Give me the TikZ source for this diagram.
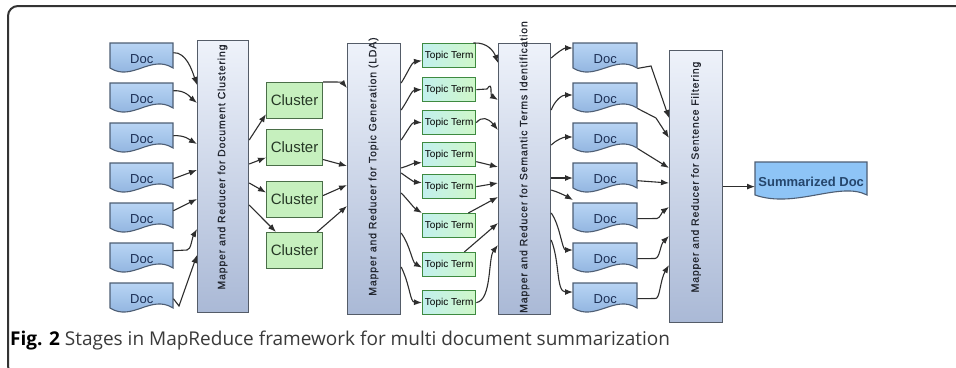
\documentclass[tikz,border=0pt]{standalone}
\usepackage{fontspec}
\setmainfont{Liberation Sans}
\newfontfamily\capfont{Open Sans}
\newfontfamily\mapfont[LetterSpace=8,FakeBold=0.6]{Liberation Sans}
\usetikzlibrary{arrows.meta,calc}

\definecolor{docA}{HTML}{B8D4F4}
\definecolor{docB}{HTML}{86ACDA}
\definecolor{docline}{HTML}{4E5E74}
\definecolor{doctext}{HTML}{1C2F55}
\definecolor{mapA}{HTML}{EEF2FA}
\definecolor{mapB}{HTML}{AAB9D6}
\definecolor{mapline}{HTML}{545C68}
\definecolor{maptxt}{HTML}{22262F}
\definecolor{clfill}{HTML}{C6F0BE}
\definecolor{clline}{HTML}{4A6E48}
\definecolor{cltext}{HTML}{263826}
\definecolor{ttA}{HTML}{C2F0EE}
\definecolor{ttB}{HTML}{CFF7C8}
\definecolor{ttline}{HTML}{3E8A40}
\definecolor{sumfill}{HTML}{8EC4F6}
\definecolor{sumtext}{HTML}{25466C}
\definecolor{arrcol}{HTML}{2E2E2E}
\definecolor{captxt}{HTML}{3A3A3A}

\newcommand{\docshape}[7]{% name, x, top, width, body height, node height, text
  \path[docsh] (#2,#3) -- ({#2+#4},#3) -- ({#2+#4},{#3+#5})
     .. controls ({#2+0.65*#4},{#3+#5-14}) and ({#2+0.35*#4},{#3+#5+14}) .. (#2,{#3+#5}) -- cycle;
  \node[docbody, anchor=north west, minimum width=#4pt, minimum height=#6pt] (#1) at (#2,#3) {#7};
}

\begin{document}
\begin{tikzpicture}[x=1pt,y=-1pt,
  docsh/.style={draw=docline, line width=1.1pt, top color=docA, bottom color=docB},
  docbody/.style={inner sep=0pt, text=doctext, font=\fontsize{13}{14}\selectfont},
  mapbox/.style={draw=mapline, line width=1.2pt, top color=mapA, bottom color=mapB, inner sep=0pt, anchor=north west},
  maptext/.style={inner sep=0pt, text=maptxt, font=\mapfont\fontsize{10.5}{12}\selectfont},
  clbox/.style={draw=clline, line width=1.1pt, fill=clfill, inner sep=0pt, anchor=north west, minimum width=56pt, minimum height=36pt, text=cltext, font=\fontsize{15}{16}\selectfont},
  ttbox/.style={draw=ttline, line width=1.3pt, left color=ttA, right color=ttB, inner sep=0pt, anchor=north west, minimum width=53pt, minimum height=24pt, text=black, font=\fontsize{10}{11}\selectfont},
  arr/.style={draw=arrcol, line width=1.1pt, -{Latex[length=8pt,width=6pt]}},
  ]
\useasboundingbox (0,0) rectangle (956,367);
\fill[white] (0,0) rectangle (956,367);
\draw[line width=2pt, draw=black!80, rounded corners=10pt] (8,6) rectangle (1000,376);

% mapper boxes
\node[mapbox, minimum width=51pt, minimum height=272pt] (m1) at (197,40) {};
\node[mapbox, minimum width=53pt, minimum height=271pt] (m2) at (347,43) {};
\node[mapbox, minimum width=52pt, minimum height=271pt] (m3) at (498,43) {};
\node[mapbox, minimum width=53pt, minimum height=272pt] (m4) at (669,50) {};
\node[maptext, rotate=90] (m1t) at (222.5,167) {Mapper and Reducer for Document Clustering};
\node[maptext, rotate=90] (m2t) at (373.5,166.5) {Mapper and Reducer for Topic Generation (LDA)};
\node[maptext, rotate=90] (m3t) at (524.5,167) {Mapper and Reducer for Semantic Terms Identification};
\node[maptext, rotate=90] (m4t) at (696,177) {Mapper and Reducer for Sentence Filtering};

% left docs
\docshape{d1}{110}{43}{63}{25}{31}{Doc}
\docshape{d2}{110}{83}{63}{25}{31}{Doc}
\docshape{d3}{110}{123}{63}{25}{31}{Doc}
\docshape{d4}{110}{163}{63}{25}{31}{Doc}
\docshape{d5}{110}{203}{63}{25}{31}{Doc}
\docshape{d6}{110}{243}{63}{25}{31}{Doc}
\docshape{d7}{110}{283}{63}{25}{31}{Doc}

% right docs
\docshape{r1}{573}{43}{64}{25}{31}{Doc}
\docshape{r2}{573}{83}{64}{25}{31}{Doc}
\docshape{r3}{573}{123}{64}{25}{31}{Doc}
\docshape{r4}{573}{163}{64}{25}{31}{Doc}
\docshape{r5}{573}{203}{64}{25}{31}{Doc}
\docshape{r6}{573}{243}{64}{25}{31}{Doc}
\docshape{r7}{573}{283}{64}{25}{31}{Doc}

% clusters
\node[clbox] (c1) at (266,82) {Cluster};
\node[clbox] (c2) at (266,129) {Cluster};
\node[clbox] (c3) at (266,181) {Cluster};
\node[clbox] (c4) at (266,232) {Cluster};

% topic terms
\node[ttbox] (t1) at (422,43) {Topic Term};
\node[ttbox] (t2) at (422,77) {Topic Term};
\node[ttbox] (t3) at (422,110) {Topic Term};
\node[ttbox] (t4) at (422,142) {Topic Term};
\node[ttbox] (t5) at (422,174) {Topic Term};
\node[ttbox] (t6) at (422,213) {Topic Term};
\node[ttbox] (t7) at (422,252) {Topic Term};
\node[ttbox] (t8) at (422,290) {Topic Term};

% summarized doc
\path[draw=docline, line width=1.1pt, fill=sumfill] (755,162) -- (867,162) -- (867,195)
   .. controls (840,181) and (795,209) .. (755,195) -- cycle;
\node[inner sep=0pt, anchor=north west, minimum width=112pt, minimum height=40pt, text=sumtext, font=\bfseries\fontsize{13}{14}\selectfont] (s) at (755,162) {Summarized Doc};

% stage 1: docs -> m1
\draw[arr] ([yshift=6pt]d1.east) .. controls (186,52) and (192,70) .. ([yshift=-45pt]m1.north west);
\draw[arr] ([yshift=8pt]d2.east) .. controls (186,90) and (191,98) .. ([yshift=-63pt]m1.north west);
\draw[arr] ([yshift=3pt]d3.east) .. controls (185,135) and (190,140) .. ([yshift=-104pt]m1.north west);
\draw[arr] (d4.east) -- ([yshift=-130pt]m1.north west);
\draw[arr] ([yshift=8pt]d5.east) -- ([yshift=-159pt]m1.north west);
\draw[arr] ([yshift=8pt]d6.east) -- (187,250) .. controls (191,250) and (192,238) .. ([yshift=-189pt]m1.north west);
\draw[arr] (d7.east) -- (179,306) -- ([yshift=-215pt]m1.north west);

% stage 2: m1 -> clusters
\draw[arr] ([yshift=-100pt]m1.north east) -- ([yshift=5pt]c1.south west);
\draw[arr] ([yshift=-124pt]m1.north east) -- ([yshift=-10pt]c2.west);
\draw[arr] ([yshift=-143pt]m1.north east) -- ([yshift=7pt]c3.west);
\draw[arr] ([yshift=-165pt]m1.north east) .. controls (258,214) and (268,224) .. ([xshift=10pt]c4.north west);

% stage 3: clusters -> m2
\draw[arr] (c1.north east) .. controls (334,82) and (342,82) .. ([yshift=-45pt]m2.north west);
\draw[arr] ([yshift=-12pt]c2.east) -- ([yshift=-123pt]m2.north west);
\draw[arr] ([yshift=4pt]c3.east) -- ([yshift=-142pt]m2.north west);
\draw[arr] ([xshift=-6pt]c4.north east) -- ([yshift=-163pt]m2.north west);

% stage 4: m2 -> topic terms
\draw[arr] ([yshift=-40pt]m2.north east) .. controls (408,72) and (412,62) .. ([yshift=-5pt]t1.west);
\draw[arr] ([yshift=-67pt]m2.north east) .. controls (408,100) and (412,90) .. (t2.west);
\draw[arr] ([yshift=-97pt]m2.north east) .. controls (408,130) and (412,122) .. (t3.west);
\draw[arr] ([yshift=-125pt]m2.north east) .. controls (408,166) and (414,163) .. ([yshift=-8pt]t4.west);
\draw[arr] ([yshift=-130pt]m2.north east) .. controls (408,178) and (414,182) .. ([yshift=4pt]t5.west);
\draw[arr] ([yshift=-150pt]m2.north east) .. controls (408,200) and (414,208) .. (t6.north west);
\draw[arr] ([yshift=-190pt]m2.north east) .. controls (410,245) and (412,262) .. ([yshift=-3pt]t7.west);
\draw[arr] ([yshift=-224pt]m2.north east) .. controls (410,285) and (410,302) .. (t8.west);

% stage 5: topic terms -> m3
\draw[arr] ([xshift=-3pt]t1.north east) .. controls (488,42) and (494,52) .. ([yshift=-20pt]m3.north west);
\draw[arr] (t2.east) -- (487,89) .. controls (493,80) and (490,95) .. ([yshift=-57pt]m3.north west);
\draw[arr] (t3.east) .. controls (482,116) and (488,118) .. ([yshift=-87pt]m3.north west);
\draw[arr] ([yshift=-7pt]t4.east) -- ([yshift=-124pt]m3.north west);
\draw[arr] (t5.east) -- ([yshift=-140pt]m3.north west);
\draw[arr] ([xshift=-8pt]t6.north east) -- ([yshift=-154pt]m3.north west);
\draw[arr] ([xshift=-12pt]t7.north east) -- ([yshift=-180pt]m3.north west);
\draw[arr] (t8.east) .. controls (492,300) and (488,258) .. ([yshift=-202pt]m3.north west);

% stage 6: m3 -> right docs
\draw[arr] ([yshift=-15pt]m3.north east) .. controls (558,52) and (564,48) .. ([yshift=-5pt]r1.north west);
\draw[arr] ([yshift=-67pt]m3.north east) .. controls (555,100) and (562,95) .. ([yshift=-12pt]r2.north west);
\draw[arr] ([yshift=-102pt]m3.north east) .. controls (556,140) and (564,137) .. ([yshift=-14pt]r3.north west);
\draw[arr] ([yshift=-135pt]m3.north east) -- ([yshift=-15pt]r4.north west);
\draw[arr] ([yshift=-147pt]m3.north east) .. controls (558,192) and (566,196) .. ([yshift=3pt]r5.north west);
\draw[arr] ([yshift=-170pt]m3.north east) .. controls (560,225) and (562,250) .. ([yshift=-7pt]r6.north west);
\draw[arr] ([yshift=-197pt]m3.north east) .. controls (560,262) and (556,292) .. ([yshift=-9pt]r7.north west);

% stage 7: right docs -> m4
\draw[arr] ([yshift=6pt]r1.south east) -- (651,66) -- ([yshift=-68pt]m4.north west);
\draw[arr] ([yshift=6pt]r2.south east) -- (656,118) -- ([yshift=-88pt]m4.north west);
\draw[arr] ([yshift=6pt]r3.south east) -- ([yshift=-118pt]m4.north west);
\draw[arr] ([yshift=-2pt]r4.east) -- ([yshift=-133pt]m4.north west);
\draw[arr] (r5.east) -- (657,218.5) .. controls (660,218) and (662,212) .. ([yshift=-157pt]m4.north west);
\draw[arr] (r6.east) -- (655,258.5) .. controls (660,258) and (660,245) .. ([yshift=-186pt]m4.north west);
\draw[arr] (r7.east) -- (655,298.5) .. controls (660,300) and (660,280) .. ([yshift=-215pt]m4.north west);

% stage 8
\draw[arr] (m4.east) -- (m4.east -| s.west);

% caption
\node[anchor=base west, inner sep=0pt, font=\capfont\fontsize{19}{22}\selectfont, text=captxt] (cap) at (10,345) {\textcolor{black}{\textbf{Fig. 2}} Stages in MapReduce framework for multi document summarization};
\end{tikzpicture}
\end{document}
